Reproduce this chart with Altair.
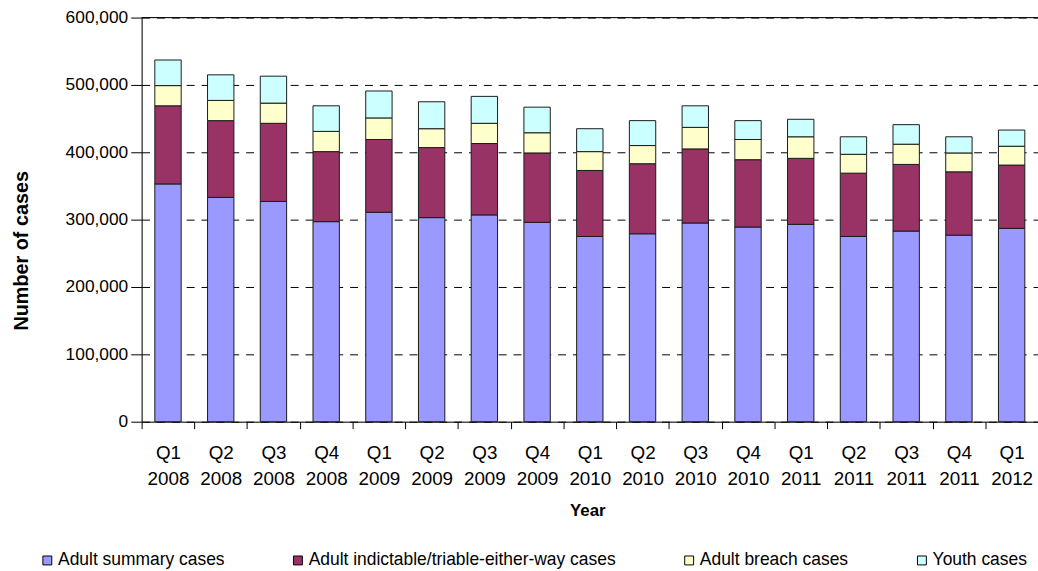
import altair as alt
import pandas as pd

# Quarterly case counts by type
quarters = [
    "Q1 2008", "Q2 2008", "Q3 2008", "Q4 2008",
    "Q1 2009", "Q2 2009", "Q3 2009", "Q4 2009",
    "Q1 2010", "Q2 2010", "Q3 2010", "Q4 2010",
    "Q1 2011", "Q2 2011", "Q3 2011", "Q4 2011",
    "Q1 2012",
]
adult_summary = [353000, 333000, 327000, 297000, 311000, 303000, 307000, 296000,
                 275000, 279000, 295000, 289000, 293000, 275000, 283000, 277000,
                 287000]
adult_indictable = [116000, 114000, 116000, 104000, 108000, 104000, 106000, 103000,
                    98000, 104000, 110000, 100000, 98000, 94000, 99000, 94000,
                    94000]
adult_breach = [30000, 30000, 30000, 30000, 32000, 28000, 30000, 30000,
                28000, 27000, 32000, 30000, 32000, 28000, 30000, 28000,
                28000]
youth = [38000, 38000, 40000, 38000, 40000, 40000, 40000, 38000,
         34000, 37000, 32000, 28000, 26000, 26000, 29000, 24000,
         24000]

series_names = [
    "Adult summary cases",
    "Adult indictable/triable-either-way cases",
    "Adult breach cases",
    "Youth cases",
]
series_values = [adult_summary, adult_indictable, adult_breach, youth]
series_colors = ["#9999FF", "#993366", "#FFFFCC", "#CCFFFF"]

y_ticks = [0, 100000, 200000, 300000, 400000, 500000, 600000]
y_max = 600000

rows = []
for order, (name, values) in enumerate(zip(series_names, series_values)):
    for q, v in zip(quarters, values):
        rows.append({"quarter": q, "series": name, "cases": v, "order": order})
df = pd.DataFrame(rows)

FONT = "Liberation Sans"

bars = alt.Chart(df).mark_bar(
    width=alt.RelativeBandSize(0.5), stroke="#1a1a1a", strokeWidth=1
).encode(
    x=alt.X(
        "quarter:N",
        sort=quarters,
        scale=alt.Scale(paddingInner=0, paddingOuter=0),
        axis=alt.Axis(
            title="Year",
            titleFont=FONT, titleFontSize=17, titleFontWeight="bold",
            titleColor="black", titleBaseline="alphabetic",
            titleX=450, titleY=95,
            labelExpr="split(datum.label, ' ')",
            labelFont=FONT, labelFontSize=19, labelColor="black",
            labelAngle=0, labelBaseline="alphabetic", labelLineHeight=26,
            labelPadding=30,
            tickBand="extent", tickSize=7, tickColor="black",
            domainColor="black", labelOverlap=False,
        ),
    ),
    y=alt.Y(
        "cases:Q",
        stack="zero",
        scale=alt.Scale(domain=[0, y_max], nice=False),
        axis=alt.Axis(
            title="Number of cases",
            titleFont=FONT, titleFontSize=20, titleFontWeight="bold",
            titleColor="black", titleBaseline="alphabetic",
            titleX=-115, titleY=235, titleAngle=270,
            values=y_ticks, format=",d",
            labelFont=FONT, labelFontSize=17.5, labelColor="black",
            labelPadding=3, tickSize=11, tickColor="black",
            domainColor="black",
            grid=True, gridColor="black", gridDash=[8, 7], gridWidth=1,
        ),
    ),
    color=alt.Color(
        "series:N",
        sort=series_names,
        scale=alt.Scale(domain=series_names, range=series_colors),
        legend=alt.Legend(
            orient="none", legendX=-104, legendY=539,
            direction="horizontal", columns=4, columnPadding=65,
            title=None, padding=0,
            symbolType="square", symbolSize=81,
            symbolStrokeColor="black", symbolStrokeWidth=1,
            labelFont=FONT, labelFontSize=17.6, labelColor="black",
            labelOffset=2, labelLimit=0,
        ),
    ),
    order=alt.Order("order:Q", sort="ascending"),
)

top_line = alt.Chart(pd.DataFrame({"y": [y_max]})).mark_rule(
    color="black", strokeWidth=1
).encode(y=alt.Y("y:Q"))

chart = alt.layer(bars, top_line).properties(
    width=905,
    height=408,
    autosize=alt.AutoSizeParams(type="none"),
    padding={"left": 143, "top": 15, "right": 0, "bottom": 148},
).configure_view(stroke=None).configure(background="white")

chart.save("out.html", embed_options={"renderer": "svg", "actions": False})
